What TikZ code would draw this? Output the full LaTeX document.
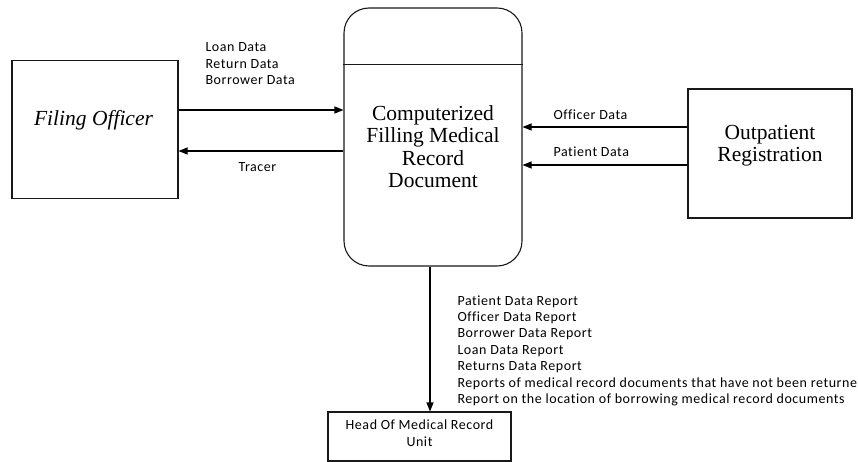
\documentclass[tikz,border=0pt]{standalone}
\usepackage{fontspec}
\setmainfont{Liberation Serif}
\newfontfamily\lblfont[LetterSpace=4, Ligatures=NoCommon]{Carlito}
\usetikzlibrary{arrows.meta}

\begin{document}
\begin{tikzpicture}[
        x=1pt, y=-1pt,
        >={Triangle[length=9pt, width=7pt]},
        line width=1.1pt,
        box/.style={
            draw=black!90,
            line width=1.1pt,
            inner sep=0pt
        },
        title/.style={
            font=\fontsize{21.5}{22.3}\selectfont,
            align=center,
            inner sep=0pt
        },
        lbl/.style={
            font=\lblfont\fontsize{14}{16.4}\selectfont,
            align=left,
            inner sep=0pt
        }
    ]

        \useasboundingbox (0,0) rectangle (858,462);

        \node[box, minimum width=166pt, minimum height=138pt] (filing) at (95,129.5) {};
        \node[box, rounded corners=25pt, minimum width=178pt, minimum height=258pt] (store) at (433,137) {};
        \node[box, minimum width=164pt, minimum height=129pt] (outpatient) at (770,153.5) {};
        \node[box, minimum width=183pt, minimum height=49pt] (head) at (419.5,436.5) {};

        \draw[black!90] ([yshift=-57pt]store.north west) -- ([yshift=-57pt]store.north east);

        % base anchor sits on the last line
        \node[title, anchor=base] (filingTxt) at (93.5,126) {\itshape Filing Officer};
        \node[title, anchor=base] (storeTxt) at (433,187.5) {Computerized\\Filling Medical\\Record\\Document};
        \node[title, anchor=base] (outpatientTxt) at (770,161.5) {Outpatient\\Registration};
        \node[lbl, align=center, anchor=base] (headTxt) at (419.5,446) {Head Of Medical Record\\Unit};

        \draw[->] ([yshift=19.5pt]filing.east) -- ([yshift=19.5pt]filing.east -| store.west);
        \draw[->] ([yshift=-21.5pt]filing.east -| store.west) -- ([yshift=-21.5pt]filing.east);
        \draw[->] ([yshift=26.5pt]outpatient.west) -- ([yshift=26.5pt]outpatient.west -| store.east);
        \draw[->] ([yshift=-11.5pt]outpatient.west) -- ([yshift=-11.5pt]outpatient.west -| store.east);
        \draw[->] ([xshift=-3pt]store.south) -- ([xshift=-3pt]store.south |- head.north);

        \node[lbl, anchor=base west] (inLbl) at (205,84.5) {Loan Data\\Return Data\\Borrower Data};
        \node[lbl, anchor=base west] (tracerLbl) at (238,172) {Tracer};
        \node[lbl, anchor=base west] (officerLbl) at (553,119.5) {Officer Data};
        \node[lbl, anchor=base west] (patientLbl) at (553,157) {Patient Data};
        \node[lbl, anchor=base west] (reportLbl) at (457,403.5) {Patient Data Report\\Officer Data Report\\Borrower Data Report\\Loan Data Report\\Returns Data Report\\Reports of medical record documents that have not been returne\\Report on the location of borrowing medical record documents};

    \end{tikzpicture}
\end{document}
